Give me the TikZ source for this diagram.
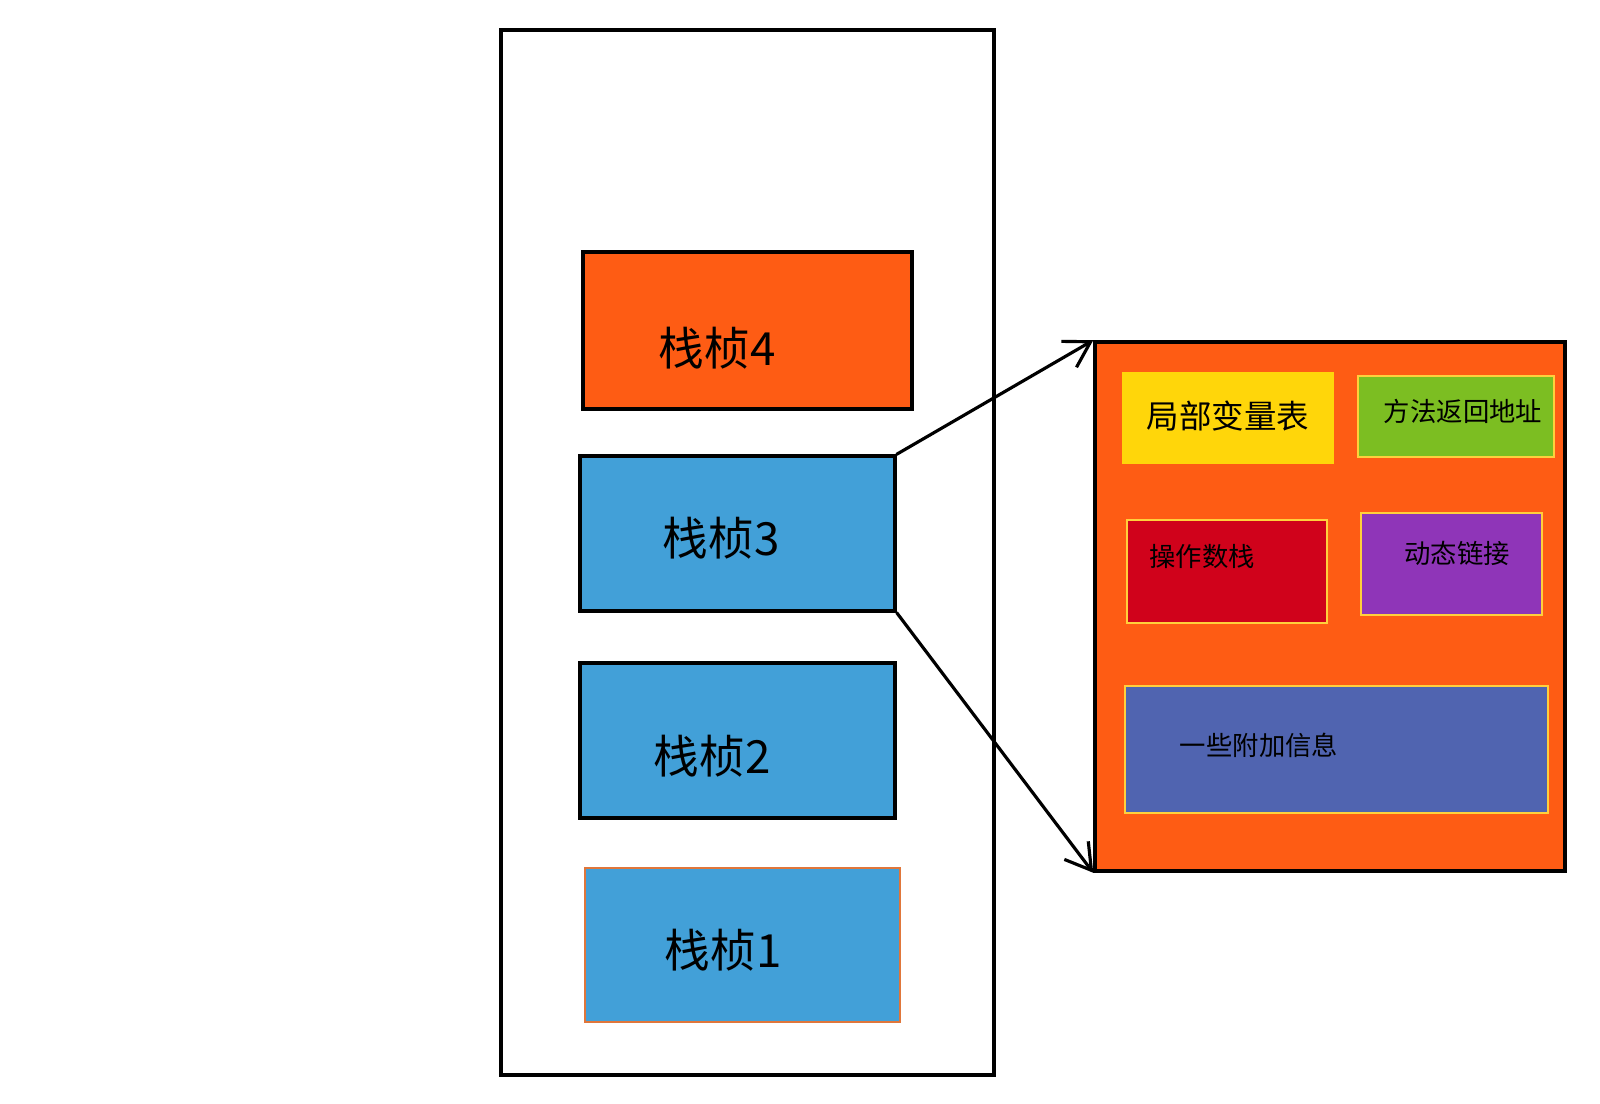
\documentclass[tikz,border=0pt]{standalone}
\usepackage{fontspec}
\setmainfont{Noto Sans CJK SC}
\usetikzlibrary{arrows.meta,positioning}
\definecolor{frameorange}{RGB}{254,92,20}
\definecolor{frameblue}{RGB}{66,160,216}
\definecolor{frameedge}{RGB}{224,118,58}
\definecolor{slotedge}{RGB}{255,208,60}
\definecolor{slotyellow}{RGB}{255,214,10}
\definecolor{slotgreen}{RGB}{124,190,34}
\definecolor{slotred}{RGB}{208,2,27}
\definecolor{slotpurple}{RGB}{143,53,184}
\definecolor{slotblue}{RGB}{80,100,176}

\begin{document}
\begin{tikzpicture}[x=1cm,y=1cm]
\tikzset{
  stackbox/.style={rectangle,draw=black,line width=2pt,inner sep=0pt},
  framebox/.style={stackbox,fill=frameblue},
  slotbox/.style={rectangle,draw=slotedge,line width=1.4pt,inner sep=0pt},
  framelabel/.style={inner sep=0pt,font=\fontsize{26}{30}\selectfont},
  slotlabel/.style={inner sep=0pt,font=\fontsize{15}{18}\selectfont},
  zoomline/.style={draw=black,line width=1.8pt,line cap=round,-{Straight Barb[length=5mm,width=6mm,line width=1.8pt]}}
}
\useasboundingbox (0,0) rectangle (32,-22.08);
% stack
\node[stackbox,minimum width=9.86cm,minimum height=20.9cm] (n_stack) at (14.95,-11.05) {};
\node[stackbox,fill=frameorange,minimum width=6.58cm,minimum height=3.14cm] (n_f4) at (14.95,-6.61) {};
\node[framebox,minimum width=6.30cm,minimum height=3.10cm] (n_f3) at (14.75,-10.67) {};
\node[framebox,minimum width=6.30cm,minimum height=3.10cm] (n_f2) at (14.75,-14.81) {};
\node[framebox,draw=frameedge,line width=1.6pt,minimum width=6.30cm,minimum height=3.08cm] (n_f1) at (14.85,-18.90) {};
\node[framelabel] (t_f4) at (14.34,-6.96) {栈桢4};
\node[framelabel] (t_f3) at (14.42,-10.76) {栈桢3};
\node[framelabel] (t_f2) at (14.24,-15.12) {栈桢2};
\node[framelabel] (t_f1) at (14.46,-19.00) {栈桢1};
% frame detail
\node[stackbox,fill=frameorange,minimum width=9.40cm,minimum height=10.58cm] (n_detail) at (26.60,-12.13) {};
\node[slotbox,draw=slotyellow,fill=slotyellow,minimum width=4.20cm,minimum height=1.80cm] (n_locals) at (24.56,-8.36) {};
\node[slotbox,fill=slotgreen,minimum width=3.92cm,minimum height=1.62cm] (n_return) at (29.12,-8.33) {};
\node[slotbox,fill=slotred,minimum width=4.00cm,minimum height=2.06cm] (n_operand) at (24.54,-11.43) {};
\node[slotbox,fill=slotpurple,minimum width=3.62cm,minimum height=2.04cm] (n_link) at (29.03,-11.28) {};
\node[slotbox,fill=slotblue,minimum width=8.46cm,minimum height=2.54cm] (n_extra) at (26.73,-14.99) {};
\node[inner sep=0pt,font=\fontsize{18.5}{22}\selectfont] (t_locals) at (24.56,-8.32) {局部变量表};
\node[slotlabel] (t_return) at (29.26,-8.22) {方法返回地址};
\node[slotlabel] (t_operand) at (24.04,-11.14) {操作数栈};
\node[slotlabel] (t_link) at (29.14,-11.06) {动态链接};
\node[slotlabel] (t_extra) at (25.18,-14.90) {一些附加信息};
% zoom lines
\draw[zoomline] (n_f3.north east) -- (n_detail.north west);
\draw[zoomline] (n_f3.south east) -- (n_detail.south west);
\end{tikzpicture}
\end{document}
